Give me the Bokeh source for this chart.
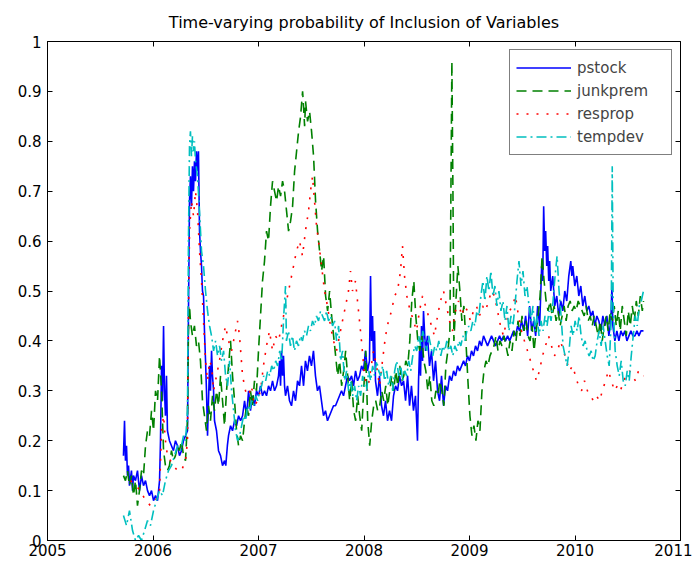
from bokeh.plotting import figure
from bokeh.embed import file_html
from bokeh.resources import INLINE
from bokeh.models import LinearAxis, FixedTicker, CustomJSTickFormatter, Legend, LegendItem

# ---------------- data ----------------
pstock_t = [2005.720,2005.730,2005.739,2005.749,2005.758,2005.768,2005.777,2005.796,2005.806,2005.815,2005.834,2005.853,2005.872,2005.891,2005.910,2005.929,2005.948,2005.967,2005.986,2006.005,2006.024,2006.043,2006.062,2006.071,2006.081,2006.090,2006.100,2006.109,2006.118,2006.128,2006.137,2006.156,2006.175,2006.194,2006.213,2006.232,2006.251,2006.270,2006.289,2006.308,2006.327,2006.336,2006.346,2006.355,2006.365,2006.374,2006.384,2006.393,2006.403,2006.412,2006.422,2006.431,2006.441,2006.450,2006.460,2006.469,2006.479,2006.488,2006.498,2006.507,2006.517,2006.526,2006.536,2006.545,2006.555,2006.564,2006.574,2006.583,2006.602,2006.621,2006.640,2006.659,2006.678,2006.690,2006.705,2006.716,2006.735,2006.754,2006.773,2006.792,2006.811,2006.830,2006.849,2006.868,2006.887,2006.906,2006.924,2006.943,2006.962,2006.981,2007.000,2007.019,2007.038,2007.057,2007.076,2007.095,2007.114,2007.133,2007.152,2007.171,2007.190,2007.200,2007.209,2007.218,2007.228,2007.237,2007.247,2007.256,2007.275,2007.294,2007.313,2007.332,2007.351,2007.370,2007.389,2007.408,2007.427,2007.445,2007.464,2007.483,2007.502,2007.521,2007.540,2007.559,2007.578,2007.597,2007.616,2007.635,2007.654,2007.673,2007.692,2007.711,2007.730,2007.749,2007.768,2007.787,2007.806,2007.825,2007.844,2007.863,2007.882,2007.901,2007.920,2007.939,2007.958,2007.977,2007.995,2008.014,2008.033,2008.052,2008.062,2008.071,2008.081,2008.090,2008.100,2008.109,2008.128,2008.147,2008.166,2008.185,2008.204,2008.223,2008.242,2008.261,2008.280,2008.299,2008.318,2008.337,2008.356,2008.375,2008.394,2008.413,2008.432,2008.450,2008.469,2008.488,2008.507,2008.517,2008.526,2008.536,2008.545,2008.555,2008.564,2008.583,2008.602,2008.621,2008.640,2008.659,2008.678,2008.697,2008.716,2008.735,2008.754,2008.773,2008.792,2008.811,2008.830,2008.849,2008.868,2008.887,2008.906,2008.925,2008.944,2008.962,2008.981,2009.000,2009.019,2009.038,2009.057,2009.076,2009.095,2009.114,2009.133,2009.152,2009.171,2009.190,2009.209,2009.228,2009.247,2009.266,2009.285,2009.304,2009.323,2009.342,2009.361,2009.380,2009.399,2009.418,2009.437,2009.456,2009.475,2009.494,2009.513,2009.532,2009.551,2009.570,2009.589,2009.608,2009.627,2009.646,2009.665,2009.684,2009.694,2009.703,2009.713,2009.722,2009.732,2009.741,2009.751,2009.760,2009.770,2009.789,2009.808,2009.827,2009.846,2009.865,2009.884,2009.903,2009.922,2009.941,2009.960,2009.970,2009.979,2009.998,2010.017,2010.036,2010.055,2010.074,2010.093,2010.112,2010.131,2010.150,2010.169,2010.188,2010.207,2010.226,2010.245,2010.264,2010.283,2010.302,2010.321,2010.340,2010.350,2010.359,2010.378,2010.397,2010.416,2010.435,2010.454,2010.473,2010.492,2010.511,2010.530,2010.549,2010.568,2010.587,2010.606,2010.625,2010.649]
pstock_v = [0.17,0.24,0.16,0.19,0.13,0.15,0.11,0.14,0.10,0.13,0.12,0.14,0.10,0.13,0.11,0.12,0.10,0.09,0.10,0.08,0.09,0.08,0.12,0.20,0.35,0.28,0.43,0.30,0.25,0.33,0.22,0.20,0.19,0.18,0.20,0.19,0.17,0.18,0.20,0.21,0.22,0.45,0.68,0.73,0.67,0.75,0.70,0.76,0.72,0.78,0.74,0.78,0.62,0.58,0.55,0.50,0.49,0.42,0.36,0.30,0.21,0.28,0.35,0.30,0.38,0.33,0.30,0.24,0.22,0.18,0.17,0.15,0.16,0.15,0.19,0.21,0.23,0.22,0.24,0.23,0.25,0.24,0.25,0.28,0.25,0.30,0.26,0.29,0.27,0.30,0.29,0.31,0.29,0.30,0.29,0.31,0.30,0.32,0.30,0.31,0.33,0.36,0.31,0.38,0.33,0.37,0.31,0.29,0.31,0.28,0.27,0.30,0.28,0.32,0.31,0.35,0.31,0.36,0.34,0.37,0.35,0.38,0.33,0.30,0.31,0.28,0.25,0.26,0.24,0.25,0.26,0.27,0.27,0.28,0.29,0.30,0.29,0.31,0.33,0.32,0.33,0.31,0.34,0.32,0.33,0.35,0.34,0.38,0.34,0.36,0.53,0.40,0.45,0.36,0.42,0.32,0.29,0.33,0.27,0.25,0.28,0.24,0.26,0.24,0.29,0.31,0.30,0.33,0.31,0.32,0.28,0.33,0.27,0.31,0.26,0.29,0.20,0.32,0.38,0.33,0.43,0.36,0.46,0.38,0.41,0.35,0.38,0.32,0.36,0.30,0.28,0.33,0.27,0.31,0.30,0.33,0.32,0.34,0.33,0.35,0.34,0.35,0.36,0.35,0.37,0.36,0.38,0.37,0.39,0.38,0.40,0.39,0.41,0.40,0.39,0.40,0.41,0.40,0.39,0.40,0.41,0.40,0.41,0.40,0.41,0.40,0.41,0.42,0.41,0.43,0.42,0.44,0.42,0.45,0.41,0.47,0.42,0.44,0.41,0.47,0.43,0.55,0.52,0.67,0.58,0.62,0.55,0.59,0.52,0.56,0.50,0.53,0.47,0.49,0.45,0.48,0.46,0.50,0.48,0.53,0.56,0.53,0.55,0.51,0.53,0.49,0.51,0.47,0.49,0.46,0.47,0.45,0.46,0.43,0.45,0.44,0.42,0.45,0.43,0.45,0.41,0.44,0.51,0.43,0.40,0.42,0.40,0.42,0.41,0.42,0.40,0.41,0.42,0.41,0.41,0.42,0.41,0.42,0.42]

junk_t = [2005.720,2005.739,2005.758,2005.777,2005.796,2005.815,2005.834,2005.853,2005.872,2005.891,2005.910,2005.929,2005.948,2005.967,2005.986,2006.005,2006.024,2006.043,2006.062,2006.081,2006.100,2006.118,2006.137,2006.156,2006.175,2006.194,2006.213,2006.232,2006.251,2006.270,2006.289,2006.308,2006.327,2006.336,2006.346,2006.355,2006.374,2006.393,2006.412,2006.431,2006.450,2006.469,2006.488,2006.507,2006.526,2006.545,2006.564,2006.583,2006.602,2006.621,2006.640,2006.659,2006.678,2006.697,2006.716,2006.735,2006.754,2006.773,2006.792,2006.811,2006.830,2006.849,2006.868,2006.887,2006.906,2006.924,2006.943,2006.962,2006.981,2007.000,2007.019,2007.038,2007.057,2007.076,2007.095,2007.114,2007.133,2007.152,2007.171,2007.190,2007.209,2007.228,2007.247,2007.266,2007.285,2007.304,2007.323,2007.342,2007.361,2007.380,2007.399,2007.418,2007.427,2007.437,2007.446,2007.465,2007.484,2007.503,2007.522,2007.541,2007.560,2007.579,2007.598,2007.617,2007.636,2007.655,2007.674,2007.693,2007.712,2007.731,2007.750,2007.769,2007.788,2007.807,2007.826,2007.845,2007.864,2007.883,2007.902,2007.921,2007.940,2007.959,2007.978,2007.997,2008.016,2008.035,2008.054,2008.073,2008.092,2008.111,2008.130,2008.149,2008.168,2008.187,2008.206,2008.225,2008.244,2008.263,2008.282,2008.301,2008.320,2008.339,2008.358,2008.377,2008.396,2008.415,2008.434,2008.453,2008.472,2008.491,2008.510,2008.529,2008.548,2008.567,2008.586,2008.605,2008.624,2008.643,2008.662,2008.681,2008.700,2008.719,2008.738,2008.757,2008.776,2008.795,2008.814,2008.824,2008.833,2008.843,2008.852,2008.871,2008.890,2008.909,2008.928,2008.947,2008.966,2008.985,2009.004,2009.023,2009.042,2009.061,2009.080,2009.099,2009.118,2009.137,2009.156,2009.175,2009.194,2009.213,2009.232,2009.251,2009.270,2009.289,2009.308,2009.327,2009.346,2009.365,2009.384,2009.403,2009.422,2009.441,2009.460,2009.479,2009.498,2009.517,2009.536,2009.555,2009.574,2009.593,2009.612,2009.631,2009.650,2009.669,2009.688,2009.707,2009.726,2009.745,2009.764,2009.783,2009.802,2009.821,2009.840,2009.859,2009.878,2009.897,2009.916,2009.935,2009.954,2009.973,2009.992,2010.011,2010.030,2010.049,2010.068,2010.087,2010.106,2010.125,2010.144,2010.163,2010.182,2010.201,2010.220,2010.239,2010.258,2010.277,2010.296,2010.315,2010.334,2010.353,2010.372,2010.391,2010.410,2010.429,2010.448,2010.467,2010.486,2010.505,2010.524,2010.543,2010.562,2010.581,2010.600,2010.619,2010.638,2010.649]
junk_v = [0.13,0.12,0.14,0.11,0.13,0.09,0.12,0.07,0.10,0.14,0.13,0.19,0.22,0.21,0.26,0.22,0.30,0.28,0.37,0.30,0.18,0.15,0.14,0.15,0.18,0.16,0.17,0.19,0.18,0.20,0.17,0.16,0.24,0.42,0.47,0.44,0.41,0.43,0.39,0.40,0.36,0.28,0.25,0.22,0.27,0.24,0.29,0.26,0.30,0.27,0.33,0.28,0.23,0.30,0.35,0.40,0.33,0.28,0.22,0.19,0.21,0.20,0.24,0.27,0.25,0.30,0.27,0.32,0.30,0.38,0.45,0.52,0.56,0.62,0.60,0.67,0.72,0.70,0.68,0.71,0.69,0.72,0.70,0.66,0.62,0.64,0.67,0.74,0.78,0.82,0.85,0.90,0.87,0.83,0.88,0.84,0.86,0.82,0.77,0.68,0.62,0.58,0.54,0.57,0.49,0.46,0.50,0.45,0.41,0.37,0.33,0.36,0.31,0.34,0.38,0.33,0.28,0.32,0.26,0.24,0.29,0.25,0.22,0.30,0.38,0.24,0.19,0.24,0.27,0.28,0.26,0.27,0.30,0.28,0.31,0.27,0.30,0.33,0.30,0.34,0.31,0.35,0.32,0.33,0.36,0.35,0.40,0.48,0.52,0.45,0.40,0.38,0.41,0.36,0.34,0.30,0.33,0.28,0.27,0.30,0.29,0.32,0.30,0.27,0.35,0.38,0.42,0.70,0.96,0.70,0.40,0.48,0.55,0.50,0.44,0.47,0.40,0.32,0.25,0.21,0.23,0.20,0.24,0.22,0.30,0.34,0.36,0.35,0.37,0.38,0.39,0.41,0.38,0.40,0.39,0.41,0.39,0.37,0.40,0.38,0.42,0.40,0.44,0.41,0.45,0.42,0.44,0.41,0.40,0.43,0.38,0.42,0.45,0.49,0.57,0.52,0.48,0.46,0.48,0.45,0.47,0.44,0.46,0.43,0.45,0.47,0.44,0.47,0.48,0.46,0.47,0.46,0.48,0.47,0.46,0.45,0.47,0.44,0.45,0.43,0.45,0.43,0.41,0.44,0.40,0.43,0.45,0.42,0.46,0.44,0.47,0.43,0.46,0.42,0.47,0.44,0.41,0.46,0.43,0.47,0.44,0.48,0.45,0.49,0.46,0.48]

resprop_t = [2005.787,2005.834,2005.882,2005.929,2005.976,2006.024,2006.062,2006.081,2006.100,2006.118,2006.137,2006.166,2006.194,2006.232,2006.270,2006.308,2006.327,2006.336,2006.346,2006.365,2006.384,2006.403,2006.422,2006.441,2006.460,2006.479,2006.498,2006.517,2006.536,2006.555,2006.574,2006.602,2006.630,2006.659,2006.687,2006.716,2006.745,2006.773,2006.801,2006.820,2006.849,2006.877,2006.905,2006.933,2006.962,2006.990,2007.019,2007.047,2007.076,2007.104,2007.133,2007.161,2007.190,2007.218,2007.247,2007.275,2007.304,2007.332,2007.360,2007.389,2007.417,2007.445,2007.474,2007.493,2007.512,2007.531,2007.550,2007.569,2007.598,2007.626,2007.654,2007.682,2007.711,2007.739,2007.768,2007.796,2007.825,2007.853,2007.872,2007.891,2007.919,2007.948,2007.976,2008.005,2008.033,2008.062,2008.090,2008.118,2008.147,2008.175,2008.204,2008.232,2008.261,2008.289,2008.318,2008.346,2008.365,2008.384,2008.412,2008.441,2008.469,2008.498,2008.526,2008.555,2008.583,2008.611,2008.640,2008.668,2008.697,2008.725,2008.754,2008.782,2008.811,2008.839,2008.867,2008.896,2008.924,2008.953,2008.981,2009.009,2009.038,2009.066,2009.095,2009.123,2009.152,2009.180,2009.209,2009.237,2009.266,2009.294,2009.322,2009.351,2009.379,2009.408,2009.436,2009.464,2009.493,2009.521,2009.550,2009.578,2009.606,2009.635,2009.663,2009.692,2009.720,2009.749,2009.777,2009.805,2009.834,2009.862,2009.891,2009.919,2009.948,2009.976,2010.005,2010.033,2010.062,2010.090,2010.118,2010.147,2010.175,2010.204,2010.232,2010.260,2010.289,2010.317,2010.345,2010.374,2010.402,2010.431,2010.459,2010.488,2010.516,2010.545,2010.573,2010.602,2010.630,2010.649]
resprop_v = [0.12,0.11,0.10,0.08,0.07,0.08,0.10,0.22,0.25,0.20,0.17,0.16,0.15,0.14,0.14,0.16,0.20,0.45,0.62,0.68,0.65,0.70,0.66,0.58,0.52,0.44,0.36,0.32,0.36,0.35,0.30,0.33,0.36,0.40,0.43,0.40,0.38,0.41,0.44,0.41,0.33,0.30,0.29,0.31,0.27,0.28,0.30,0.35,0.39,0.42,0.38,0.41,0.40,0.43,0.46,0.49,0.52,0.55,0.58,0.60,0.57,0.62,0.66,0.70,0.73,0.68,0.63,0.60,0.55,0.50,0.47,0.43,0.40,0.38,0.41,0.44,0.47,0.50,0.54,0.50,0.52,0.46,0.40,0.33,0.30,0.34,0.38,0.35,0.31,0.36,0.41,0.44,0.46,0.49,0.50,0.54,0.59,0.53,0.48,0.46,0.44,0.42,0.46,0.49,0.47,0.45,0.43,0.41,0.45,0.48,0.50,0.47,0.44,0.42,0.46,0.48,0.45,0.47,0.46,0.44,0.46,0.47,0.45,0.47,0.46,0.48,0.50,0.49,0.46,0.43,0.41,0.44,0.46,0.47,0.49,0.45,0.42,0.40,0.38,0.36,0.34,0.32,0.34,0.37,0.39,0.41,0.39,0.37,0.38,0.40,0.38,0.36,0.34,0.35,0.33,0.31,0.30,0.32,0.30,0.29,0.28,0.29,0.28,0.30,0.32,0.34,0.32,0.30,0.31,0.30,0.32,0.33,0.34,0.33,0.32,0.34,0.33,0.33]

temp_t = [2005.720,2005.749,2005.777,2005.806,2005.834,2005.863,2005.891,2005.920,2005.948,2005.976,2006.005,2006.033,2006.062,2006.090,2006.118,2006.147,2006.175,2006.204,2006.232,2006.261,2006.289,2006.308,2006.327,2006.336,2006.346,2006.355,2006.365,2006.374,2006.384,2006.393,2006.403,2006.422,2006.441,2006.460,2006.479,2006.498,2006.517,2006.536,2006.555,2006.574,2006.593,2006.612,2006.631,2006.650,2006.669,2006.688,2006.707,2006.726,2006.745,2006.764,2006.783,2006.802,2006.821,2006.840,2006.859,2006.878,2006.897,2006.916,2006.935,2006.954,2006.973,2006.992,2007.011,2007.030,2007.049,2007.068,2007.087,2007.106,2007.125,2007.144,2007.163,2007.182,2007.201,2007.220,2007.239,2007.256,2007.265,2007.284,2007.303,2007.322,2007.341,2007.360,2007.379,2007.398,2007.417,2007.436,2007.455,2007.474,2007.493,2007.512,2007.531,2007.550,2007.569,2007.588,2007.607,2007.626,2007.645,2007.664,2007.683,2007.702,2007.721,2007.740,2007.759,2007.778,2007.797,2007.816,2007.835,2007.854,2007.873,2007.892,2007.911,2007.930,2007.949,2007.968,2007.987,2008.006,2008.025,2008.044,2008.063,2008.082,2008.101,2008.120,2008.139,2008.158,2008.177,2008.196,2008.215,2008.234,2008.253,2008.272,2008.291,2008.310,2008.329,2008.348,2008.367,2008.386,2008.405,2008.424,2008.443,2008.462,2008.481,2008.500,2008.519,2008.538,2008.557,2008.576,2008.595,2008.614,2008.633,2008.652,2008.671,2008.690,2008.709,2008.728,2008.747,2008.766,2008.785,2008.804,2008.823,2008.842,2008.861,2008.880,2008.899,2008.918,2008.937,2008.956,2008.975,2008.994,2009.013,2009.032,2009.051,2009.070,2009.089,2009.108,2009.127,2009.146,2009.165,2009.184,2009.203,2009.222,2009.241,2009.260,2009.279,2009.298,2009.317,2009.336,2009.355,2009.374,2009.393,2009.412,2009.431,2009.450,2009.469,2009.488,2009.507,2009.526,2009.545,2009.564,2009.583,2009.602,2009.621,2009.640,2009.659,2009.678,2009.697,2009.716,2009.735,2009.754,2009.773,2009.792,2009.811,2009.830,2009.849,2009.868,2009.887,2009.906,2009.925,2009.944,2009.963,2009.982,2010.001,2010.020,2010.039,2010.058,2010.077,2010.096,2010.115,2010.134,2010.153,2010.172,2010.191,2010.210,2010.229,2010.248,2010.267,2010.286,2010.305,2010.324,2010.343,2010.353,2010.362,2010.381,2010.400,2010.419,2010.438,2010.457,2010.476,2010.495,2010.514,2010.533,2010.552,2010.571,2010.590,2010.609,2010.628,2010.649]
temp_v = [0.05,0.03,0.06,0.02,0.00,0.01,0.00,0.02,0.04,0.03,0.06,0.08,0.10,0.09,0.12,0.14,0.15,0.17,0.19,0.18,0.21,0.20,0.26,0.60,0.79,0.82,0.77,0.81,0.78,0.80,0.76,0.73,0.66,0.58,0.55,0.50,0.46,0.43,0.41,0.38,0.40,0.37,0.39,0.36,0.38,0.33,0.31,0.36,0.30,0.26,0.22,0.20,0.21,0.23,0.25,0.24,0.27,0.26,0.28,0.27,0.29,0.28,0.30,0.31,0.33,0.32,0.34,0.33,0.35,0.34,0.36,0.35,0.38,0.36,0.45,0.51,0.40,0.42,0.39,0.41,0.38,0.40,0.39,0.41,0.40,0.42,0.41,0.43,0.42,0.44,0.43,0.45,0.44,0.46,0.45,0.44,0.46,0.44,0.45,0.43,0.44,0.40,0.43,0.36,0.38,0.32,0.34,0.30,0.32,0.29,0.31,0.28,0.31,0.29,0.33,0.31,0.30,0.34,0.32,0.35,0.33,0.36,0.34,0.33,0.35,0.32,0.34,0.31,0.33,0.30,0.34,0.36,0.33,0.35,0.32,0.34,0.33,0.36,0.34,0.37,0.39,0.38,0.41,0.39,0.42,0.40,0.38,0.41,0.39,0.37,0.39,0.38,0.40,0.37,0.39,0.38,0.40,0.38,0.39,0.37,0.39,0.38,0.40,0.39,0.41,0.40,0.42,0.43,0.42,0.44,0.43,0.46,0.45,0.49,0.52,0.48,0.53,0.50,0.54,0.49,0.51,0.47,0.50,0.46,0.48,0.44,0.47,0.42,0.45,0.43,0.47,0.52,0.56,0.51,0.54,0.49,0.51,0.47,0.44,0.47,0.42,0.45,0.41,0.44,0.42,0.45,0.43,0.46,0.44,0.48,0.53,0.57,0.50,0.45,0.39,0.37,0.35,0.38,0.43,0.41,0.44,0.42,0.45,0.41,0.39,0.40,0.38,0.37,0.38,0.36,0.37,0.40,0.42,0.39,0.43,0.40,0.37,0.35,0.44,0.75,0.47,0.38,0.35,0.33,0.36,0.32,0.31,0.34,0.32,0.37,0.41,0.45,0.43,0.47,0.48,0.50]

x_ticks = [2005, 2006, 2007, 2008, 2009, 2010, 2011]
y_ticks = [0, 0.1, 0.2, 0.3, 0.4, 0.5, 0.6, 0.7, 0.8, 0.9, 1]
y_labels = {0: "0", 0.1: "0.1", 0.2: "0.2", 0.3: "0.3", 0.4: "0.4", 0.5: "0.5",
            0.6: "0.6", 0.7: "0.7", 0.8: "0.8", 0.9: "0.9", 1: "1"}
title_text = "Time-varying probability of Inclusion of Variables"

FONT = "DejaVu Sans"

p = figure(width=692, height=562, x_range=(2005, 2011), y_range=(0, 1),
           output_backend="svg", toolbar_location=None,
           min_border_left=47, min_border_right=12, min_border_top=40, min_border_bottom=22)
p.background_fill_color = "white"
p.border_fill_color = "white"
p.outline_line_color = "black"
p.outline_line_width = 1
p.xgrid.visible = False
p.ygrid.visible = False

p.title.text = title_text
p.title.align = "center"
p.title.text_font = FONT
p.title.text_font_size = "16px"
p.title.text_font_style = "normal"
p.title.text_color = "black"
p.title.standoff = 20

for ax in (p.xaxis[0], p.yaxis[0]):
    ax.major_tick_in = 5
    ax.major_tick_out = 0
    ax.minor_tick_in = 0
    ax.minor_tick_out = 0
    ax.axis_line_color = "black"
    ax.major_tick_line_color = "black"
    ax.major_label_text_font = FONT
    ax.major_label_text_font_size = "15px"
    ax.major_label_text_color = "black"
p.xaxis[0].ticker = FixedTicker(ticks=x_ticks)
p.xaxis[0].major_label_standoff = 3
p.yaxis[0].ticker = FixedTicker(ticks=y_ticks)
p.yaxis[0].major_label_overrides = y_labels
p.yaxis[0].major_label_standoff = 6

top_ax = LinearAxis(ticker=FixedTicker(ticks=x_ticks), formatter=CustomJSTickFormatter(code="return ''"),
                    major_tick_in=5, major_tick_out=0, minor_tick_in=0, minor_tick_out=0,
                    major_label_standoff=0, major_label_text_font_size="1px", axis_line_color=None)
right_ax = LinearAxis(ticker=FixedTicker(ticks=y_ticks), formatter=CustomJSTickFormatter(code="return ''"),
                      major_tick_in=5, major_tick_out=0, minor_tick_in=0, minor_tick_out=0,
                      major_label_standoff=0, major_label_text_font_size="1px", axis_line_color=None)
p.add_layout(top_ax, "above")
p.add_layout(right_ax, "right")

r1 = p.line(pstock_t, pstock_v, line_color="#0000FF", line_width=1.6)
r2 = p.line(junk_t, junk_v, line_color="#008000", line_width=1.6, line_dash="10 6")
r3 = p.line(resprop_t, resprop_v, line_color="#FF0000", line_width=1.6, line_dash="2 8")
r4 = p.line(temp_t, temp_v, line_color="#00BFBF", line_width=1.6, line_dash="10 4 2 4")

legend = Legend(items=[LegendItem(label="pstock", renderers=[r1]),
                       LegendItem(label="junkprem", renderers=[r2]),
                       LegendItem(label="resprop", renderers=[r3]),
                       LegendItem(label="tempdev", renderers=[r4])],
                location="top_right")
legend.border_line_color = "black"
legend.border_line_width = 1
legend.background_fill_color = "white"
legend.background_fill_alpha = 1
legend.label_text_font = FONT
legend.label_text_font_size = "15px"
legend.glyph_width = 55
legend.glyph_height = 23
legend.label_height = 23
legend.label_width = 88
legend.spacing = 0
legend.padding = 6
legend.margin = 8
legend.label_standoff = 6
p.add_layout(legend)

open("out.html", "w").write(file_html(p, INLINE))
